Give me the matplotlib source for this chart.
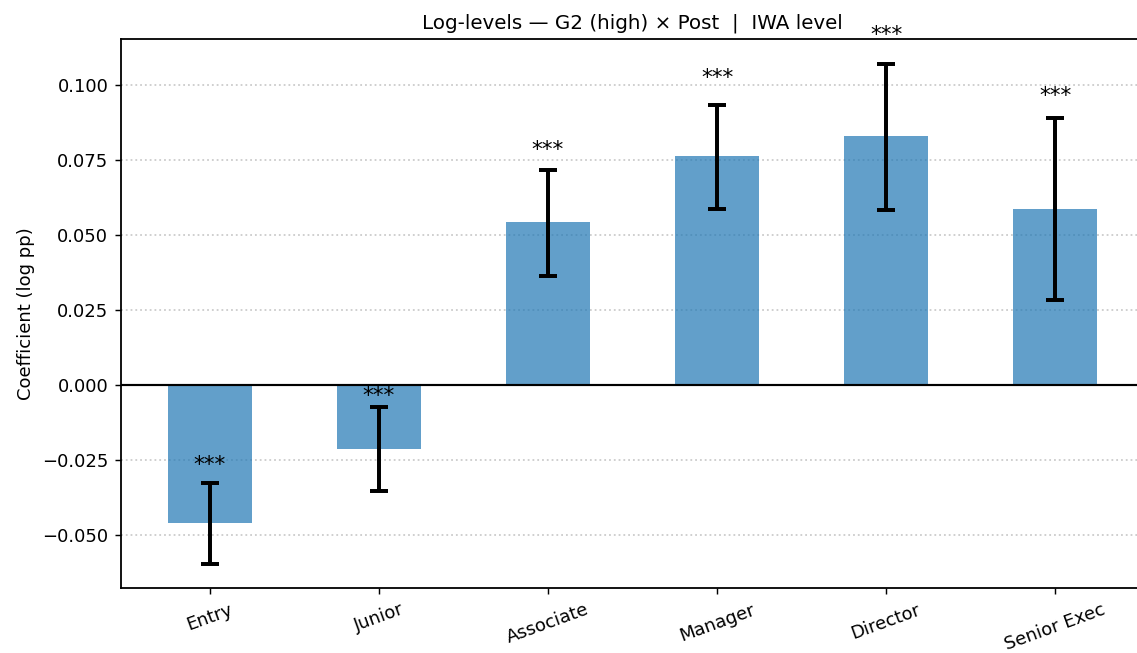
import matplotlib
matplotlib.use("Agg")
import matplotlib.pyplot as plt
import numpy as np

categories = ["Entry", "Junior", "Associate", "Manager", "Director", "Senior Exec"]
coef = [-0.0460, -0.0213, 0.0543, 0.0763, 0.0830, 0.0587]
ci_low = [-0.0597, -0.0353, 0.0363, 0.0587, 0.0583, 0.0283]
ci_high = [-0.0327, -0.0073, 0.0717, 0.0933, 0.1070, 0.0890]
stars = ["***", "***", "***", "***", "***", "***"]
yticks = [-0.050, -0.025, 0.000, 0.025, 0.050, 0.075, 0.100]

dpi = 130
plt.rcParams["axes.linewidth"] = 1.0
fig = plt.figure(figsize=(1137 / dpi, 653 / dpi), dpi=dpi)
ax = fig.add_axes([121 / 1137, 1 - 588 / 653, (1144 - 121) / 1137, (588 - 39) / 653])

x = np.arange(len(categories))
coef_a = np.array(coef)
lo = np.array(ci_low)
hi = np.array(ci_high)
yerr = np.vstack([coef_a - lo, hi - coef_a])

ax.bar(x, coef_a, width=0.5, color="#1f77b4", alpha=0.7, zorder=2)
ax.errorbar(x, coef_a, yerr=yerr, fmt="none", ecolor="black", elinewidth=2.2,
            capsize=5, capthick=2.2, zorder=3)
ax.axhline(0, color="black", linewidth=1.2, zorder=2)

for xi, h, c, s in zip(x, hi, coef_a, stars):
    ypos = h + 0.0026 + 0.096 * abs(c)
    ax.annotate(s, (xi, ypos), xytext=(0, -1.8), textcoords="offset points",
                ha="center", va="center", fontsize=12, annotation_clip=False)

ax.set_xlim(-0.525, 5.525)
ax.set_ylim(-0.0677, 0.1153)
ax.set_yticks(yticks)
ax.set_xticks(x)
ax.set_xticklabels(categories, rotation=20, ha="center")
ax.yaxis.grid(True, linestyle=":", color="#cccccc", linewidth=1, zorder=0)
ax.set_axisbelow(True)
ax.set_ylabel("Coefficient (log pp)")
ax.set_title("Log-levels \u2014 G2 (high) \u00d7 Post  |  IWA level", fontsize=11)

fig.savefig("out.png", dpi=dpi)
